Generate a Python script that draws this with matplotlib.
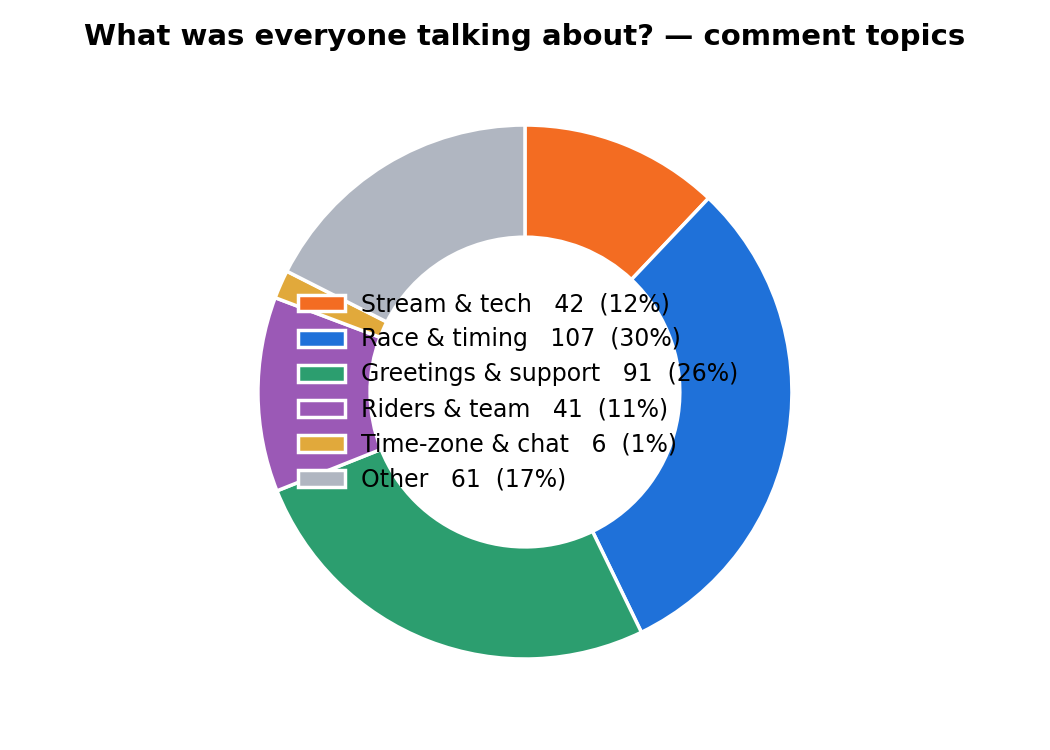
import matplotlib
matplotlib.use("Agg")
import matplotlib.pyplot as plt

plt.rcParams['font.family'] = ['DejaVu Sans']

# comment topic counts
topics = ["Stream & tech", "Race & timing", "Greetings & support",
          "Riders & team", "Time-zone & chat", "Other"]
counts = [42, 107, 91, 41, 6, 61]
colors = ["#f36c22", "#1f71d9", "#2c9e6f", "#9b59b6", "#e1a93b", "#b0b6c1"]

total = sum(counts)
labels = [f"{t}   {c}  ({int(c * 100 / total)}%)" for t, c in zip(topics, counts)]

fig = plt.figure(figsize=(10.5, 7.5), dpi=100)
ax = fig.add_axes([0.1821, 0.0323, 0.6357, 0.89])

wedges, _ = ax.pie(counts, colors=colors, startangle=90, counterclock=False,
                   wedgeprops=dict(width=0.42, edgecolor="white", linewidth=2.5))
ax.set_aspect("equal")

# legend sits in the hole, a touch left of centre like the original
leg = ax.legend(wedges, labels, loc="center", bbox_to_anchor=(0.4895, 0.5),
                frameon=False, fontsize=17,
                handlelength=2.0, handleheight=0.72, handletextpad=0.68,
                labelspacing=0.47)

fig.suptitle("What was everyone talking about? — comment topics",
             fontsize=21, fontweight="bold", y=0.951, va="center")

fig.savefig("out.png", dpi=100)
